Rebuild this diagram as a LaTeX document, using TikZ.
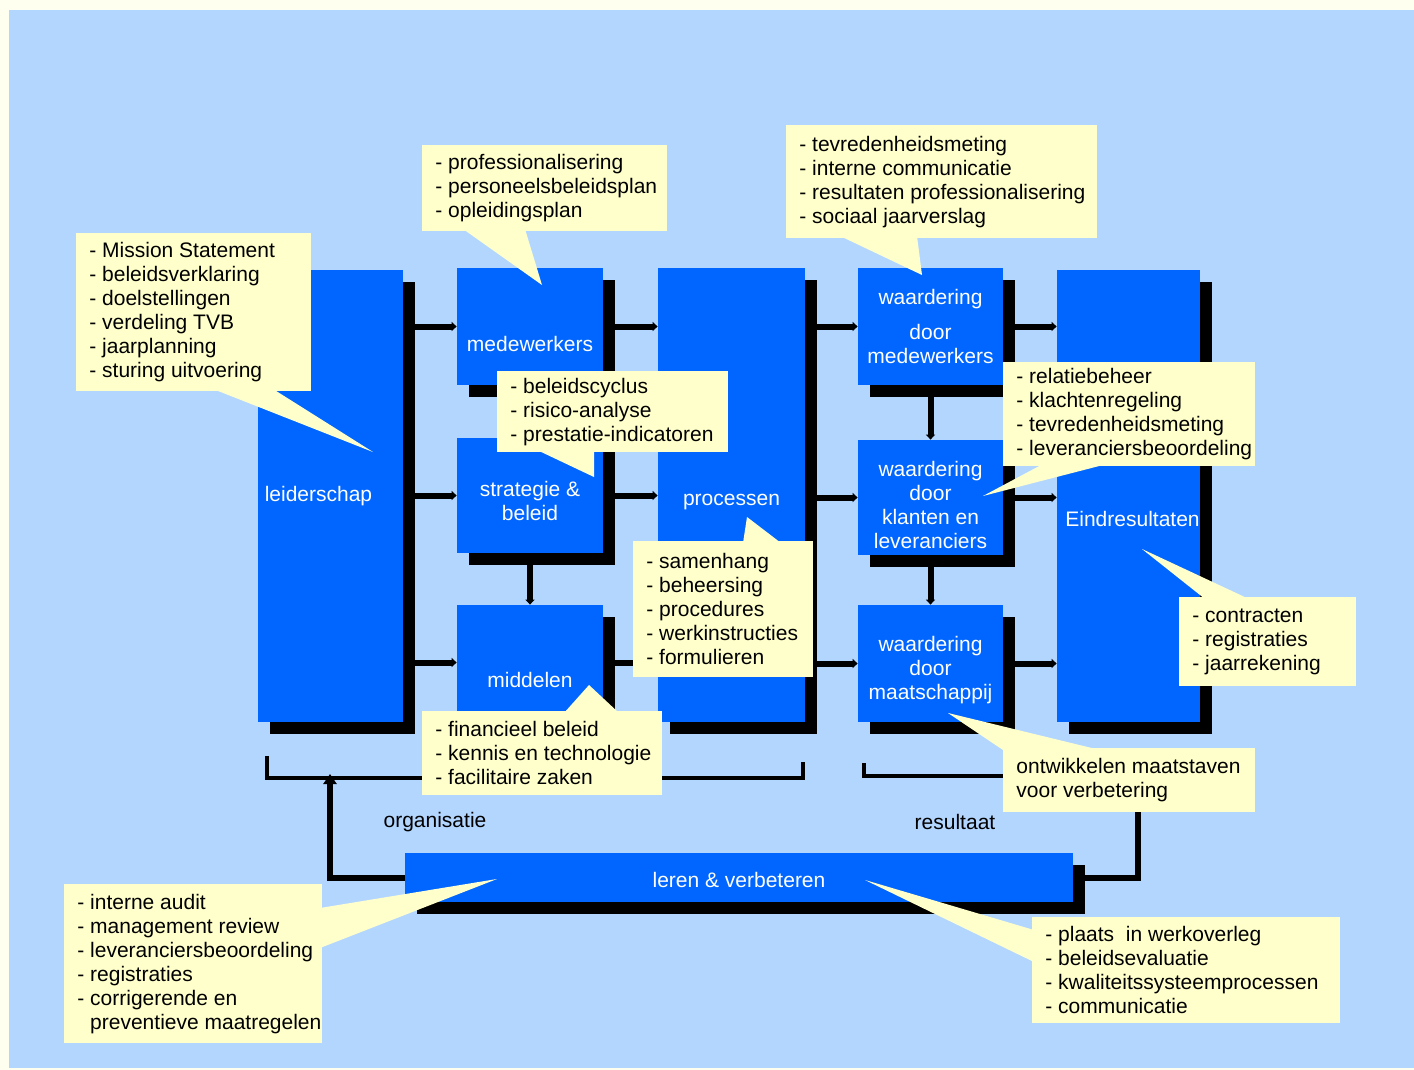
\documentclass[tikz,border=0pt]{standalone}
\usepackage{fontspec}
\setmainfont{Liberation Sans}
\usetikzlibrary{arrows.meta,shadows}

\definecolor{pagecream}{RGB}{255,255,240}
\definecolor{skyblue}{RGB}{179,214,255}
\definecolor{boxblue}{RGB}{0,102,255}
\definecolor{noteyellow}{RGB}{255,255,204}

\tikzset{
  blk/.style 2 args={fill=boxblue, minimum width=#1*0.5pt, minimum height=#2*0.5pt, inner sep=0pt,
    general shadow={fill=black, shadow xshift=6pt, shadow yshift=-5.75pt}},
  blktxt/.style={text=white, align=center, inner sep=0pt},
  note/.style 2 args={fill=noteyellow, anchor=north west, minimum width=#1*0.5pt, minimum height=#2*0.5pt, inner sep=0pt},
  notetxt/.style={anchor=west, xshift=6.5pt, align=left, inner sep=0pt},
  ptr/.style={fill=noteyellow},
  conn/.style={line width=3pt, {Triangle[length=2.5pt,width=4.5pt]}-{Triangle[length=2.5pt,width=4.5pt]}},
  feedback/.style={line width=3pt, -{Triangle[length=5pt,width=6.5pt]}},
  brace/.style={line width=1.6pt}
}

\begin{document}
\begin{tikzpicture}[x=0.5pt,y=-0.5pt,font=\fontsize{10.5}{12}\selectfont]
  \useasboundingbox (0,0) rectangle (1414,1070);
  % page and backdrop
  \fill[pagecream] (0,0) rectangle (1414,1070);
  \fill[skyblue] (9,10) rectangle (1414,1068);
  % brackets under the two halves
  \draw[brace] (267,756) |- (803,778) -- (803,762);
  \draw[brace] (864,763) |- (1205,776) -- (1205,763);
  \coordinate (orgM) at (330,774);
  \coordinate (resM) at (1138,776);
  \node (orgT) at (435,822) {organisatie};
  \node (resT) at (955,822) {resultaat};
  % organisatie blocks
  \node[blk={145}{452}] (lead)  at (330.5,496) {};
  \node[blk={146}{117}] (med)   at (530,326.5) {};
  \node[blk={146}{115}] (strat) at (530,495.5) {};
  \node[blk={146}{115}] (midd)  at (530,662.5) {};
  \node[blk={147}{454}] (proc)  at (731.5,495) {};
  % resultaat blocks
  \node[blk={145}{117}] (wmed)  at (930.5,326.5) {};
  \node[blk={145}{115}] (wkl)   at (930.5,497.5) {};
  \node[blk={145}{117}] (wmaat) at (930.5,663.5) {};
  \node[blk={143}{452}] (eind)  at (1128.5,496) {};
  \node[blk={668}{49}]  (leren) at (739,877.5) {};
  % block captions
  \node[blktxt] (leadT)  at ([xshift=-6pt]lead.center) {leiderschap};
  \node[blktxt] (medT)   at ([yshift=-8.5pt]med.center) {medewerkers};
  \node[blktxt] (stratT) at ([yshift=-2.75pt]strat.center) {strategie \&\\beleid};
  \node[blktxt] (middT)  at ([yshift=-8.5pt]midd.center) {middelen};
  \node[blktxt] (procT)  at ([yshift=-3.5pt]proc.center) {processen};
  \node[blktxt] (wmedT)  at (wmed.center) {waardering\\[5.5pt]door\\medewerkers};
  \node[blktxt] (wklT)   at ([yshift=-3.75pt]wkl.center) {waardering\\door\\klanten en\\leveranciers};
  \node[blktxt] (wmaatT) at ([yshift=-3.25pt]wmaat.center) {waardering\\door\\maatschappij};
  \node[blktxt] (eindT)  at ([xshift=2pt,yshift=-11.5pt]eind.center) {Eindresultaten};
  \node[blktxt] (lerenT) at ([yshift=-1.25pt]leren.center) {leren \& verbeteren};
  % links between blocks
  \draw[conn] (lead.east |- med.center) -- (med.west);
  \draw[conn] (lead.east |- strat.center) -- (strat.west);
  \draw[conn] (lead.east |- midd.center) -- (midd.west);
  \draw[conn] (strat.south) -- (midd.north);
  \draw[conn] (med.east) -- (proc.west |- med.east);
  \draw[conn] (strat.east) -- (proc.west |- strat.east);
  \draw[conn] (midd.east) -- (proc.west |- midd.east);
  \draw[conn] (proc.east |- wmed.center) -- (wmed.west);
  \draw[conn] (proc.east |- wkl.center) -- (wkl.west);
  \draw[conn] (proc.east |- wmaat.center) -- (wmaat.west);
  \draw[conn] (wmed.south) -- (wkl.north);
  \draw[conn] (wkl.south) -- (wmaat.north);
  \draw[conn] (wmed.east) -- (eind.west |- wmed.east);
  \draw[conn] (wkl.east) -- (eind.west |- wkl.east);
  \draw[conn] (wmaat.east) -- (eind.west |- wmaat.east);
  % learning loop
  \draw[feedback] (leren.west) -| (orgM);
  \draw[feedback] (resM) |- (leren.east);
  % callouts
  \node[note={235}{158}] (leadN) at (76,233) {};
  \fill[ptr] (213,389) -- (373,452) -- (273,389) -- cycle;
  \node[notetxt] (leadNT) at (leadN.west) {- Mission Statement\\- beleidsverklaring\\- doelstellingen\\- verdeling TVB\\- jaarplanning\\- sturing uitvoering};
  \node[note={245}{86}] (medN) at (422,145) {};
  \fill[ptr] (463,229) -- (542,285) -- (525,229) -- cycle;
  \node[notetxt] (medNT) at (medN.west) {- professionalisering\\- personeelsbeleidsplan\\- opleidingsplan};
  \node[note={311}{113}] (wmedN) at (786,125) {};
  \fill[ptr] (840,236) -- (922,275) -- (917,236) -- cycle;
  \node[notetxt] (wmedNT) at (wmedN.west) {- tevredenheidsmeting\\- interne communicatie\\- resultaten professionalisering\\- sociaal jaarverslag};
  \node[note={231}{81}] (stratN) at (497,371) {};
  \fill[ptr] (537,450) -- (594,477) -- (594,450) -- cycle;
  \node[notetxt] (stratNT) at (stratN.west) {- beleidscyclus\\- risico-analyse\\- prestatie-indicatoren};
  \node[note={180}{136}] (procN) at (633,541) {};
  \fill[ptr] (743,543) -- (747,517) -- (781,543) -- cycle;
  \node[notetxt] (procNT) at (procN.west) {- samenhang\\- beheersing\\- procedures\\- werkinstructies\\- formulieren};
  \node[note={240}{84}] (middN) at (422,711) {};
  \fill[ptr] (564,713) -- (589,685) -- (619,713) -- cycle;
  \node[notetxt] (middNT) at (middN.west) {- financieel beleid\\- kennis en technologie\\- facilitaire zaken};
  \node[note={252}{104}] (wklN) at (1003,362) {};
  \fill[ptr] (1043,464) -- (983,496) -- (1107,464) -- cycle;
  \node[notetxt] (wklNT) at (wklN.west) {- relatiebeheer\\- klachtenregeling\\- tevredenheidsmeting\\- leveranciersbeoordeling};
  \node[note={177}{89}] (eindN) at (1179,597) {};
  \fill[ptr] (1205,599) -- (1142,549) -- (1249,599) -- cycle;
  \node[notetxt] (eindNT) at (eindN.west) {- contracten\\- registraties\\- jaarrekening};
  \node[note={252}{64}] (wmaatN) at (1003,748) {};
  \fill[ptr] (1003,750) -- (948,713) -- (1100,750) -- cycle;
  \node[notetxt] (wmaatNT) at (wmaatN.west) {ontwikkelen maatstaven\\voor verbetering};
  \node[note={258}{159}] (lerenL) at (64,884) {};
  \fill[ptr] (320,908) -- (497,879) -- (320,948) -- cycle;
  \node[notetxt] (lerenLT) at (lerenL.west) {- interne audit\\- management review\\- leveranciersbeoordeling\\- registraties\\- corrigerende en\\\hphantom{- }preventieve maatregelen};
  \node[note={308}{106}] (lerenR) at (1032,917) {};
  \fill[ptr] (1034,930) -- (865,880) -- (1034,962) -- cycle;
  \node[notetxt] (lerenRT) at (lerenR.west) {- plaats \ in werkoverleg\\- beleidsevaluatie\\- kwaliteitssysteemprocessen\\- communicatie};
\end{tikzpicture}
\end{document}
